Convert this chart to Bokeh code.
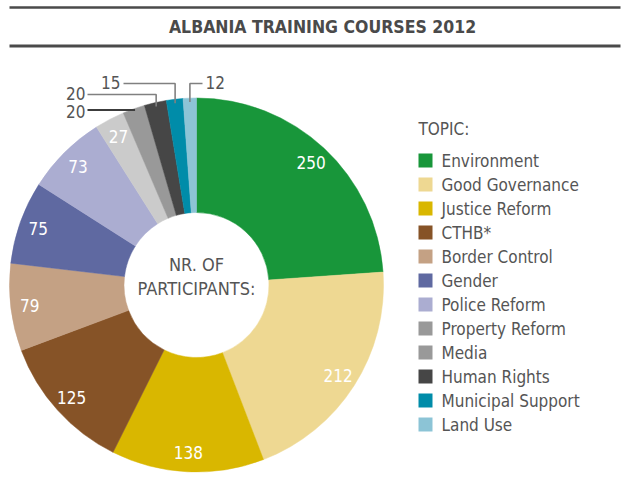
import math
from bokeh.plotting import figure
from bokeh.models import Range1d, ColumnDataSource
from bokeh.core.properties import value
from bokeh.embed import file_html
from bokeh.resources import INLINE

# ---------------- data ----------------
topics = ["Environment", "Good Governance", "Justice Reform", "CTHB*", "Border Control",
          "Gender", "Police Reform", "Property Reform", "Media", "Human Rights",
          "Municipal Support", "Land Use"]
participants = [250, 212, 138, 125, 79, 75, 73, 27, 20, 20, 15, 12]
slice_colors = ["#18963a", "#eed892", "#d9b700", "#865327", "#c4a184", "#5f69a1",
                "#abadd1", "#cbcbcb", "#999999", "#464646", "#008ca9", "#8cc4d6"]
legend_colors = ["#18963a", "#eed892", "#d9b700", "#865327", "#c4a184", "#5f69a1",
                 "#abadd1", "#999999", "#999999", "#464646", "#008ca9", "#8cc4d6"]
title_text = "ALBANIA TRAINING COURSES 2012"
legend_title = "TOPIC:"
center_lines = ["NR. OF", "PARTICIPANTS:"]

# ---------------- layout ----------------
W, H = 629, 488
FONT = "DejaVu Sans Condensed"
TXT = "#555555"


def Y(py):
    return H - py


cx, cy = 196.0, Y(284.5)
r_in, r_out = 72.5, 187.0

p = figure(width=W, height=H, output_backend="svg", toolbar_location=None,
           x_range=Range1d(0, W), y_range=Range1d(0, H),
           x_axis_location=None, y_axis_location=None, min_border=0)
p.outline_line_color = None
p.grid.visible = False
p.background_fill_color = "white"
p.border_fill_color = "white"

total = float(sum(participants))
starts, ends, mids = [], [], []
acc = 0.0
for v in participants:
    f0 = acc / total
    acc += v
    f1 = acc / total
    # clockwise from the top
    starts.append(math.pi / 2 - f1 * 2 * math.pi)
    ends.append(math.pi / 2 - f0 * 2 * math.pi)
    mids.append(math.pi / 2 - (f0 + f1) / 2 * 2 * math.pi)

src = ColumnDataSource(dict(start=starts, end=ends, color=slice_colors, topic=topics))
p.annular_wedge(x=cx, y=cy, inner_radius=r_in, outer_radius=r_out,
                start_angle="start", end_angle="end", fill_color="color",
                line_color="color", line_width=0.5, source=src)

# inside labels (first 8 slices)
r_lab = 168.0
n_in = 8
lx = [cx + r_lab * math.cos(a) for a in mids[:n_in]]
ly = [cy + r_lab * math.sin(a) for a in mids[:n_in]]
p.text(x=lx, y=ly, text=[str(v) for v in participants[:n_in]],
       text_color="white", text_font=value(FONT), text_font_size="17px",
       text_align="center", text_baseline="middle")

# callout labels for the small slices
r_anchor = 183.0
anchors = [(cx + r_anchor * math.cos(a), cy + r_anchor * math.sin(a)) for a in mids]
# Land Use
ax, ay = anchors[11]
p.line([ax, ax, 202], [ay, Y(83), Y(83)], line_color="#808080", line_width=1.6)
p.text(x=[205], y=[Y(82)], text=[str(participants[11])], text_color=TXT,
       text_font=value(FONT), text_font_size="17px", text_align="left", text_baseline="middle")
# Municipal Support
ax, ay = anchors[10]
p.line([ax, ax, 123], [ay, Y(83), Y(83)], line_color="#808080", line_width=1.6)
p.text(x=[120], y=[Y(82)], text=[str(participants[10])], text_color=TXT,
       text_font=value(FONT), text_font_size="17px", text_align="right", text_baseline="middle")
# Human Rights
ax, ay = anchors[9]
p.line([ax, ax, 87], [ay, Y(94), Y(94)], line_color="#808080", line_width=1.6)
p.text(x=[85], y=[Y(93)], text=[str(participants[9])], text_color=TXT,
       text_font=value(FONT), text_font_size="17px", text_align="right", text_baseline="middle")
# Media
ax, ay = anchors[8]
p.line([87, ax], [Y(109.5), Y(109.5)], line_color="#3c3c3c", line_width=2)
p.text(x=[85], y=[Y(111)], text=[str(participants[8])], text_color=TXT,
       text_font=value(FONT), text_font_size="17px", text_align="right", text_baseline="middle")

# centre text
p.text(x=[cx, cx], y=[Y(264), Y(288)], text=center_lines, text_color=TXT,
       text_font=value(FONT), text_font_size="18px", text_align="center",
       text_baseline="middle")

# title and rules
p.line([9, 620], [Y(7), Y(7)], line_color="#4a4a4a", line_width=2.5)
p.line([9, 620], [Y(45.5), Y(45.5)], line_color="#4a4a4a", line_width=3)
p.text(x=[322], y=[Y(26)], text=[title_text], text_color="#4a4a4a",
       text_font=value(FONT), text_font_style="bold", text_font_size="17.5px",
       text_align="center", text_baseline="middle")

# legend
p.text(x=[418], y=[Y(128)], text=[legend_title], text_color=TXT,
       text_font=value(FONT), text_font_size="17px", text_align="left",
       text_baseline="middle")
ys = [Y(160 + 24 * i) for i in range(len(topics))]
p.rect(x=[425] * len(topics), y=ys, width=14, height=14,
       fill_color=legend_colors, line_color=None)
p.text(x=[441] * len(topics), y=ys, text=topics, text_color=TXT,
       text_font=value(FONT), text_font_size="17px", text_align="left",
       text_baseline="middle")

open("out.html", "w").write(file_html(p, INLINE))
